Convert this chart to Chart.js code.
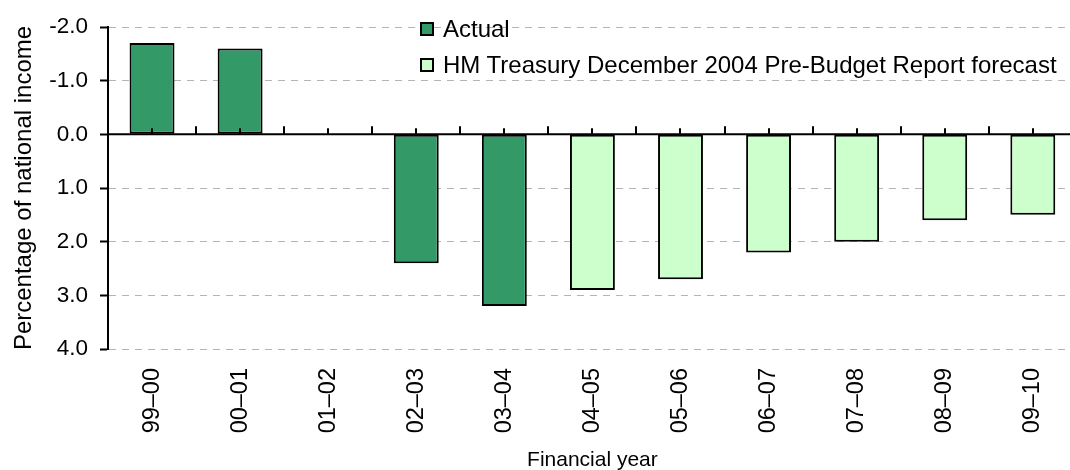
<!DOCTYPE html>
<html><head><meta charset="utf-8">
<script src="https://cdn.jsdelivr.net/npm/chart.js@4/dist/chart.umd.min.js"></script>
<style>
html,body{margin:0;padding:0;background:#fff;}
#wrap{position:relative;width:1070px;height:470px;overflow:hidden;}
#c{position:absolute;left:0;top:0;}
#legend{position:absolute;left:420px;top:11px;font-family:"Liberation Sans",Arial,sans-serif;font-size:24px;color:#000;}
.row{display:flex;align-items:center;height:36px;white-space:nowrap;}
.sw{width:14px;height:14px;box-sizing:border-box;border:2px solid #000;margin-right:9px;flex:none;}
</style></head><body>
<div id="wrap"><canvas id="c" width="1080" height="470"></canvas><div id="legend"></div></div>
<script>
const categories = ['99–00','00–01','01–02','02–03','03–04','04–05','05–06','06–07','07–08','08–09','09–10'];
const actualValues = [-1.7, -1.6, 0, 2.4, 3.2, null, null, null, null, null, null];
const forecastValues = [null, null, null, null, null, 2.9, 2.7, 2.2, 2.0, 1.6, 1.5];
const yTickValues = [-2, -1, 0, 1, 2, 3, 4];
const seriesNames = ['Actual', 'HM Treasury December 2004 Pre-Budget Report forecast'];
const seriesColors = ['#339966', '#CCFFCC'];
const yTitle = 'Percentage of national income';
const xTitle = 'Financial year';

const FONT = '"Liberation Sans", Arial, sans-serif';

const zeroAxis = {
  id: 'zeroAxis',
  afterDatasetsDraw(chart) {
    const {ctx, chartArea: a, scales: {x, y}} = chart;
    const y0 = y.getPixelForValue(0);
    ctx.save();
    ctx.strokeStyle = '#000';
    ctx.lineWidth = 2;
    ctx.beginPath();
    ctx.moveTo(a.left, y0); ctx.lineTo(a.right, y0);
    ctx.stroke();
    ctx.beginPath();
    for (let i = 0; i <= categories.length; i++) {
      const xb = Math.round(x.getPixelForValue(i - 0.5));
      ctx.moveTo(xb, y0); ctx.lineTo(xb, y0 - 8);
      if (i < categories.length) {
        const xc = Math.round(x.getPixelForValue(i));
        ctx.moveTo(xc, y0); ctx.lineTo(xc, y0 - 6);
      }
    }
    ctx.stroke();
    ctx.restore();
  }
};

const chart = new Chart(document.getElementById('c'), {
  type: 'bar',
  data: {
    labels: categories,
    datasets: [
      {label: seriesNames[0], data: actualValues, backgroundColor: seriesColors[0]},
      {label: seriesNames[1], data: forecastValues, backgroundColor: seriesColors[1]}
    ]
  },
  options: {
    responsive: false,
    animation: false,
    devicePixelRatio: 1,
    layout: {padding: {top: 27, left: 0, right: 0, bottom: 0}},
    datasets: {
      bar: {
        grouped: false,
        categoryPercentage: 1,
        barPercentage: 0.51,
        borderColor: '#000',
        borderWidth: 2,
        borderSkipped: false
      }
    },
    plugins: {legend: {display: false}, tooltip: {enabled: false}},
    scales: {
      x: {
        offset: true,
        grid: {display: false, drawTicks: false},
        border: {display: false},
        ticks: {
          minRotation: 90, maxRotation: 90, autoSkip: false, padding: 19,
          color: '#000', font: {family: FONT, size: 23.5}
        },
        title: {
          display: true, text: xTitle, color: '#000',
          font: {family: FONT, size: 21, lineHeight: 1},
          padding: {top: 0, bottom: -1}
        },
        afterFit(s) { s.height = 121; }
      },
      y: {
        reverse: true,
        min: -2, max: 4,
        afterBuildTicks(s) { s.ticks = yTickValues.map(v => ({value: v})); },
        grid: {
          color: '#b4b4b4', lineWidth: 1,
          tickColor: '#000', tickWidth: 2, tickLength: 8
        },
        border: {display: true, color: '#000', width: 2, dash: [7, 6]},
        ticks: {
          padding: 12, color: '#000', font: {family: FONT, size: 22.5},
          callback: v => Number(v).toFixed(1)
        },
        title: {
          display: true, text: yTitle, color: '#000',
          font: {family: FONT, size: 24, lineHeight: 1},
          padding: {top: 12, bottom: 0}
        },
        afterFit(s) { s.width = 108; }
      }
    }
  },
  plugins: [zeroAxis]
});

const legend = document.getElementById('legend');
chart.data.datasets.forEach(ds => {
  const row = document.createElement('div');
  row.className = 'row';
  const sw = document.createElement('span');
  sw.className = 'sw';
  sw.style.background = ds.backgroundColor;
  const t = document.createElement('span');
  t.textContent = ds.label;
  row.appendChild(sw); row.appendChild(t);
  legend.appendChild(row);
});
</script>
</body></html>
